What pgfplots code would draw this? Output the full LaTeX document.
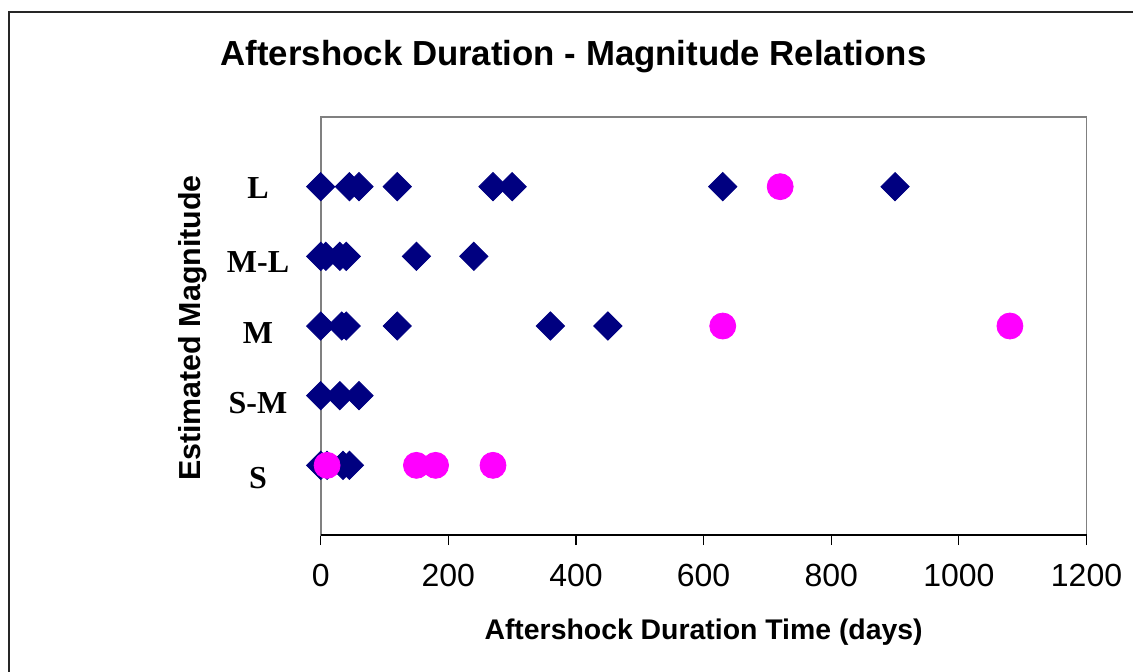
\documentclass[border=0pt]{standalone}
\usepackage{pgfplots}
\pgfplotsset{compat=1.18}
\usepackage{fontspec}
\setmainfont{Liberation Sans}
\newfontfamily\serifb{Liberation Serif}
\definecolor{navy}{RGB}{0,0,128}
\definecolor{mag}{RGB}{255,0,255}
\begin{document}
\begin{tikzpicture}
\useasboundingbox (-160.35pt,-68pt) rectangle (406.15pt,267.5pt);
\draw[line width=1.2pt, black!85] (-155.85pt,-80pt) -- (-155.85pt,261.5pt) -- (420pt,261.5pt);
\begin{axis}[
  at={(0pt,0pt)}, anchor=origin,
  scale only axis,
  width=382.9pt, height=209pt,
  xmin=0, xmax=1200, ymin=0, ymax=6,
  xtick={0,200,...,1200},
  ytick={0.82,1.89,2.9,3.92,4.98},
  yticklabels={S,S-M,M,M-L,L},
  yticklabel style={anchor=center, xshift=-26.35pt, font=\serifb\fontsize{16}{19}\selectfont\bfseries},
  xticklabel style={font=\fontsize{16}{19}\selectfont, yshift=-6pt},
  /pgf/number format/assume math mode=true,
  /pgf/number format/1000 sep={},
  tick align=outside,
  xtick pos=bottom,
  major tick length=5pt,
  xtick style={black, line width=0.6pt},
  ytick style={draw=none},
  axis line style={gray, line width=0.8pt},
  clip=false,
  xlabel={\bfseries Aftershock Duration Time (days)},
  xlabel style={font=\fontsize{14.2}{17}\selectfont, at={(axis description cs:0.5,0)}, anchor=center, yshift=-48.5pt},
  ylabel={\bfseries Estimated Magnitude},
  ylabel style={font=\fontsize{15.2}{18}\selectfont, at={(axis description cs:0,0.4952)}, anchor=center, yshift=63.85pt},
]
\draw[black, line width=0.8pt] (rel axis cs:0,0) -- (rel axis cs:1,0);
% diamonds
\addplot[only marks, mark=square*, mark size=5pt, mark options={rotate=45, fill=navy, draw=navy}] coordinates {
 (0,5) (45,5) (60,5) (120,5) (270,5) (300,5) (630,5) (900,5)
 (0,4) (8,4) (30,4) (40,4) (150,4) (240,4)
 (0,3) (33,3) (40,3) (120,3) (360,3) (450,3)
 (0,2) (30,2) (60,2)
 (0,1) (10,1) (35,1) (45,1)
};
% circles
\addplot[only marks, mark=*, mark size=6.5pt, mark options={fill=mag, draw=mag}] coordinates {
 (720,5)
 (630,3) (1080,3)
 (10,1) (150,1) (180,1) (270,1)
};
\end{axis}
\node[font=\fontsize{17.4}{20}\selectfont\bfseries] at (126.4pt,239pt) {Aftershock Duration - Magnitude Relations};
\end{tikzpicture}
\end{document}
